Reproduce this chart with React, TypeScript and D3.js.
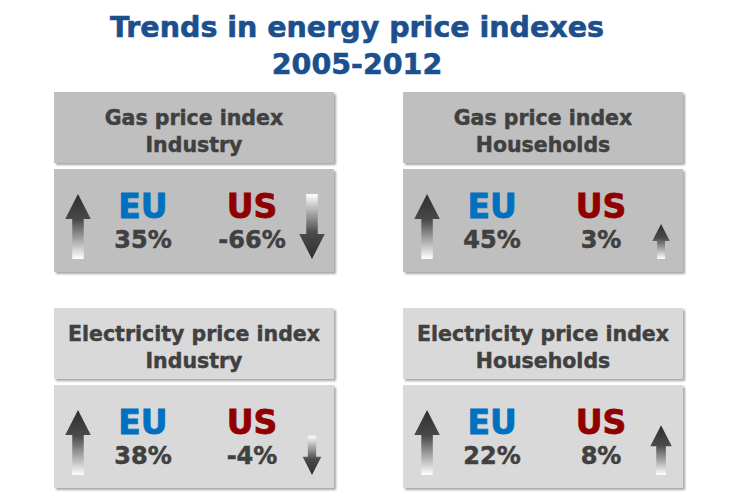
import React from "react";
import * as d3 from "d3";

const titleLines = ["Trends in energy price indexes", "2005-2012"];
const panelTitles = ["Gas price index", "Gas price index", "Electricity price index", "Electricity price index"];
const panelSectors = ["Industry", "Households", "Industry", "Households"];
const regions = ["EU", "US"];
const euChange = [35, 45, 38, 22];
const usChange = [-66, 3, -4, 8];

const W = 735;
const H = 504;
const FONT = "Verdana, 'DejaVu Sans', sans-serif";
const TEXT = "#404040";
const regionColors = ["#0070c0", "#900000"];
const rowFills = ["#bfbfbf", "#d9d9d9"];

export default function App() {
  const colX = d3.scaleBand<number>().domain([0, 1]).range([54, 683]).paddingInner(0.198);
  const rowY = d3.scalePoint<number>().domain([0, 1]).range([92, 308]);
  const pw = colX.bandwidth();
  const headerH = 71;
  const gap = 6;
  const bodyH = 103;
  const arrowLen = d3.scaleLog().domain([3, 22]).range([35, 65]).clamp(true);
  const regionX = d3.scalePoint<string>().domain(regions).range([89, 198]);

  const arrowPath = (cx: number, yb: number, v: number) => {
    const L = arrowLen(Math.abs(v));
    const hw = L * 0.27 + 8;
    const hh = hw * 0.98;
    const sw = hw * 0.45;
    const p = d3.path();
    const t = yb - L;
    if (v >= 0) {
      p.moveTo(cx, t);
      p.lineTo(cx + hw / 2, t + hh);
      p.lineTo(cx + sw / 2, t + hh);
      p.lineTo(cx + sw / 2, yb);
      p.lineTo(cx - sw / 2, yb);
      p.lineTo(cx - sw / 2, t + hh);
      p.lineTo(cx - hw / 2, t + hh);
    } else {
      p.moveTo(cx, yb);
      p.lineTo(cx + hw / 2, yb - hh);
      p.lineTo(cx + sw / 2, yb - hh);
      p.lineTo(cx + sw / 2, t);
      p.lineTo(cx - sw / 2, t);
      p.lineTo(cx - sw / 2, yb - hh);
      p.lineTo(cx - hw / 2, yb - hh);
    }
    p.closePath();
    return p.toString();
  };

  const fmt = (v: number) => `${v}%`;

  return (
    <svg width={W} height={H} style={{ position: "absolute", left: 0, top: 0, background: "#fff" }}>
      <defs>
        <filter id="shadow" x="-5%" y="-5%" width="115%" height="125%">
          <feDropShadow dx="2" dy="2" stdDeviation="1.3" floodColor="#000" floodOpacity="0.35" />
        </filter>
        <linearGradient id="gUp" x1="0" y1="0" x2="0" y2="1">
          <stop offset="0" stopColor="#2e2e2e" />
          <stop offset="0.4" stopColor="#4a4a4a" />
          <stop offset="1" stopColor="#ffffff" />
        </linearGradient>
        <linearGradient id="gDown" x1="0" y1="1" x2="0" y2="0">
          <stop offset="0" stopColor="#2e2e2e" />
          <stop offset="0.4" stopColor="#4a4a4a" />
          <stop offset="1" stopColor="#ffffff" />
        </linearGradient>
      </defs>
      <rect width={W} height={H} fill="#fff" />
      {titleLines.map((t, i) => (
        <text
          key={t}
          x={357}
          y={37 + i * 37}
          textAnchor="middle"
          fontFamily={FONT}
          fontWeight="bold"
          fontSize={28.5}
          fill="#1c4f8e"
          stroke="#1c4f8e"
          strokeWidth={0.6}
        >
          {t}
        </text>
      ))}
      {panelTitles.map((title, i) => {
        const col = i % 2;
        const row = Math.floor(i / 2);
        const x = colX(col)!;
        const y = rowY(row)!;
        const bodyTop = y + headerH + gap;
        const bodyBottom = bodyTop + bodyH;
        const vals = [euChange[i], usChange[i]];
        const yb = bodyBottom - 13;
        return (
          <g key={i}>
            <rect x={x} y={y} width={pw} height={headerH} fill={rowFills[row]} filter="url(#shadow)" />
            <rect x={x} y={bodyTop} width={pw} height={bodyH} fill={rowFills[row]} filter="url(#shadow)" />
            <text x={x + pw / 2} y={y + 33} textAnchor="middle" fontFamily={FONT} fontWeight="bold" fontSize={20.5} fill={TEXT} stroke={TEXT} strokeWidth={0.45}>
              {title}
            </text>
            <text x={x + pw / 2} y={y + 60} textAnchor="middle" fontFamily={FONT} fontWeight="bold" fontSize={20.5} fill={TEXT} stroke={TEXT} strokeWidth={0.45}>
              {panelSectors[i]}
            </text>
            {regions.map((r, j) => (
              <g key={r}>
                <text x={x + regionX(r)!} y={y + 126} textAnchor="middle" fontFamily={FONT} fontWeight="bold" fontSize={33} fill={regionColors[j]} stroke={regionColors[j]} strokeWidth={0.8}>
                  {r}
                </text>
                <text x={x + regionX(r)!} y={y + 156} textAnchor="middle" fontFamily={FONT} fontWeight="bold" fontSize={24} fill={TEXT} stroke={TEXT} strokeWidth={0.5}>
                  {fmt(vals[j])}
                </text>
              </g>
            ))}
            <path d={arrowPath(x + 24, yb, vals[0])} fill={vals[0] >= 0 ? "url(#gUp)" : "url(#gDown)"} />
            <path d={arrowPath(x + 258, yb, vals[1])} fill={vals[1] >= 0 ? "url(#gUp)" : "url(#gDown)"} />
          </g>
        );
      })}
    </svg>
  );
}
